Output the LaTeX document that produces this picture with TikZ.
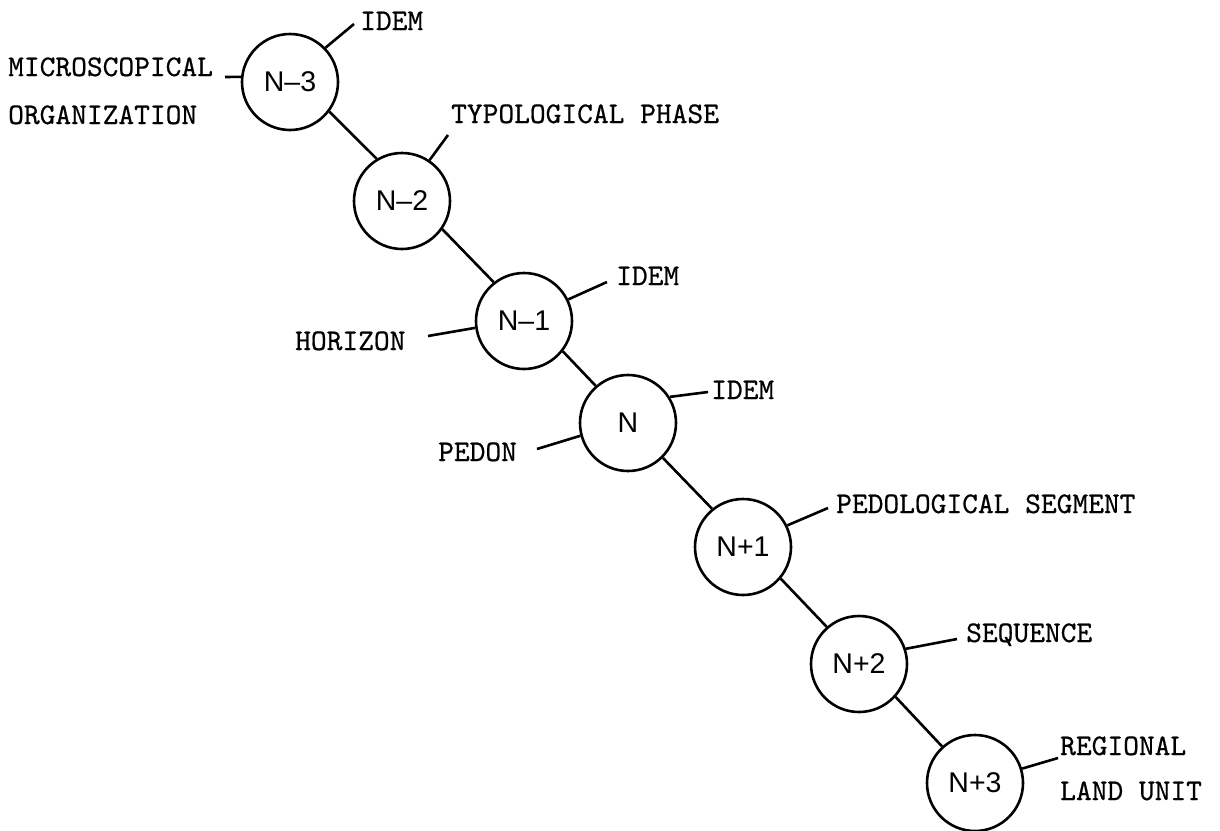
\documentclass[tikz,border=0pt]{standalone}
\usepackage{fontspec}
\setmainfont{Liberation Sans}
\newfontfamily\labfont[FakeBold=0.6]{lmmono10-regular.otf}
\begin{document}
\begin{tikzpicture}[x=1pt,y=-1pt,
  lvl/.style={circle,draw,line width=2.6pt,minimum size=96pt,inner sep=0pt,font=\fontsize{28.5}{28.5}\selectfont},
  lab/.style={anchor=base west,inner sep=0pt,font=\labfont\fontsize{30}{30}\selectfont},
  conn/.style={line width=2.6pt}]
\useasboundingbox (0,0) rectangle (1220,830);
% level circles
\node[lvl] (n3) at (290,82) {N–3};
\node[lvl] (n2) at (402,201) {N–2};
\node[lvl] (n1) at (524,321) {N–1};
\node[lvl] (n0) at (628,423) {N};
\node[lvl] (p1) at (743,547) {N+1};
\node[lvl] (p2) at (859,664) {N+2};
\node[lvl] (p3) at (975,783) {N+3};
% chain
\draw[conn] (n3.-37) -- (n2.121);
\draw[conn] (n2.-35) -- (n1.128);
\draw[conn] (n1.-38) -- (n0.131);
\draw[conn] (n0.-45) -- (p1.129);
\draw[conn] (p1.-40) -- (p2.131);
\draw[conn] (p2.-42) -- (p3.132);
% labels
\node[lab] (l1) at (360,30) {IDEM};
\node[lab] (l2) at (8,76) {MICROSCOPICAL};
\node[lab] (l2b) at (8,124) {ORGANIZATION};
\node[lab] (l3) at (451,123) {TYPOLOGICAL PHASE};
\node[lab] (l4) at (616,285) {IDEM};
\node[lab] (l5) at (295,350) {HORIZON};
\node[lab] (l6) at (711,399) {IDEM};
\node[lab] (l7) at (438,461) {PEDON};
\node[lab] (l8) at (836,513) {PEDOLOGICAL SEGMENT};
\node[lab] (l9) at (966,642) {SEQUENCE};
\node[lab] (l10) at (1060,755) {REGIONAL};
\node[lab] (l10b) at (1060,800) {LAND UNIT};
% label leader ends
\coordinate (e1) at (354,24);
\coordinate (e2) at (225,77);
\coordinate (e3) at (448,135);
\coordinate (e4) at (607,282);
\coordinate (e5) at (428,336);
\coordinate (e6) at (708,392);
\coordinate (e7) at (537,449);
\coordinate (e8) at (828,508);
\coordinate (e9) at (957,639);
\coordinate (e10) at (1058,758);
\draw[conn] (n3.44) -- (e1);
\draw[conn] (n3.174) -- (e2);
\draw[conn] (n2.56) -- (e3);
\draw[conn] (n1.26) -- (e4);
\draw[conn] (n1.188) -- (e5);
\draw[conn] (n0.32) -- (e6);
\draw[conn] (n0.195) -- (e7);
\draw[conn] (p1.26) -- (e8);
\draw[conn] (p2.18) -- (e9);
\draw[conn] (p3.17) -- (e10);
\end{tikzpicture}
\end{document}
